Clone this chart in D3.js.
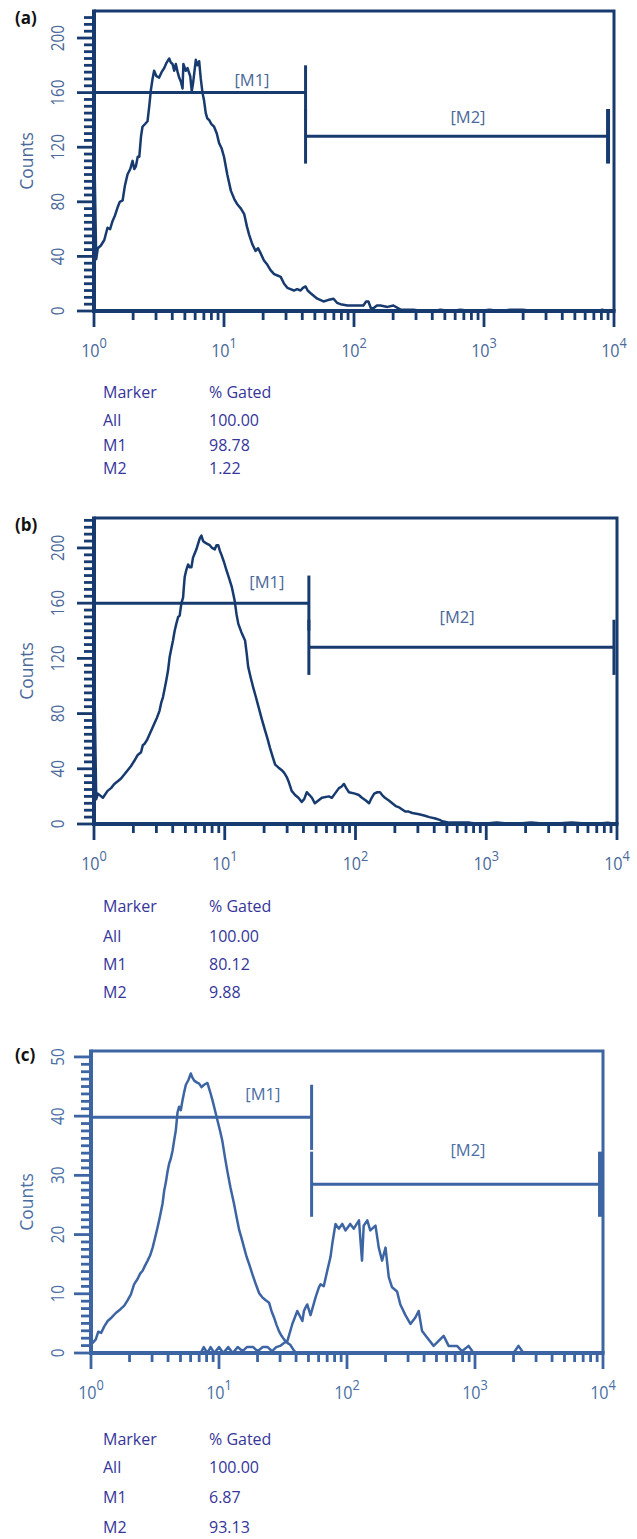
<!DOCTYPE html>
<html><head><meta charset="utf-8">
<script src="https://cdn.jsdelivr.net/npm/d3@7"></script>
<style>body{margin:0;background:#fff}svg{display:block}text{font-family:"Open Sans","Noto Sans",sans-serif}</style>
</head><body><svg id="chart" width="637" height="1539"></svg>
<script>
// ---------- data ----------
const panelLabels = ["(a)", "(b)", "(c)"];
const xTickValues = [1, 10, 100, 1000, 10000];
const xTickExponents = ["0", "1", "2", "3", "4"];
const yTicksA = [0, 40, 80, 120, 160, 200];
const yTicksB = [0, 40, 80, 120, 160, 200];
const yTicksC = [0, 10, 20, 30, 40, 50];
const yAxisTitle = "Counts";

const markerNames = ["[M1]", "[M2]"];
const markerStartA = [1, 42.4], markerEndA = [42.4, 9000], markerLevelA = [160, 128];
const markerStartB = [1, 44], markerEndB = [44, 9480], markerLevelB = [160, 128];
const markerStartC = [1, 52.9], markerEndC = [52.9, 9480], markerLevelC = [39.8, 28.5];
const markerLabelXA = [16.4, 753], markerLabelYA = [169, 142];
const markerLabelXB = [21, 598], markerLabelYB = [175, 150];
const markerLabelXC = [22, 881], markerLabelYC = [43.7, 34.2];

const tableHeader = ["Marker", "% Gated"];
const tableRows = ["All", "M1", "M2"];
const gatedA = ["100.00", "98.78", "1.22"];
const gatedB = ["100.00", "80.12", "9.88"];
const gatedC = ["100.00", "6.87", "93.13"];

// histogram traces: [intensity, counts]
const curveA = [[1,130],[1.04,38],[1.07,46],[1.13,48],[1.20,52],[1.27,61],[1.33,60],[1.39,66],[1.45,70],[1.52,76],[1.58,80],[1.66,81],[1.73,92],[1.81,100],[1.90,104],[1.98,110],[2.04,104],[2.10,106],[2.17,113],[2.23,113],[2.30,128],[2.36,135],[2.47,137],[2.58,139],[2.66,150],[2.74,162],[2.82,170],[2.90,176],[3.02,172],[3.17,171],[3.31,175],[3.47,178],[3.62,182],[3.79,185],[3.90,182],[4.02,181],[4.14,176],[4.26,181],[4.40,175],[4.52,171],[4.66,168],[4.80,163],[4.87,181],[5.08,176],[5.24,178],[5.50,172],[5.65,161],[5.80,168],[6.07,184],[6.25,180],[6.44,183],[6.63,170],[6.83,160],[7.03,154],[7.24,145],[7.45,141],[7.68,140],[8.00,137],[8.39,135],[8.80,130],[9.17,123],[9.60,119],[10.0,113],[10.6,100],[11.3,88],[12.0,82],[12.7,78],[13.5,75],[14.3,71],[15.0,62],[15.6,56],[16.5,49],[17.5,44],[18.3,46],[19.2,42],[20.3,37],[21.5,34],[22.8,30],[24.3,27],[25.8,26],[27.3,25],[29.0,20],[30.7,17],[32.5,16],[34.5,15],[36.5,16],[38.8,15],[40.5,17],[42.4,18],[44,15],[46.4,13],[52.2,9],[58.3,7],[63,8],[69.6,9],[74,6],[78.8,5],[89.1,4],[100,4],[118,4],[124,7],[129,7],[135,2],[141,2],[150,4],[160,4],[181,3],[201,4],[228,1],[286,1],[340,0],[408,0],[461,1],[560,0],[657,1],[800,0],[936,0],[1100,1],[1333,0],[1589,1],[1966,1],[2474,0],[3846,0],[7816,0],[8090,1],[8835,0],[10000,0]];

const curveB = [[1,120],[1.04,18],[1.07,22],[1.17,19],[1.27,24],[1.35,26],[1.43,29],[1.52,31],[1.61,33],[1.71,36],[1.81,39],[1.92,42],[2.04,46],[2.16,50],[2.29,52],[2.36,57],[2.43,58],[2.55,61],[2.66,65],[2.78,69],[2.90,73],[3.03,77],[3.17,82],[3.27,88],[3.37,92],[3.47,98],[3.57,104],[3.68,111],[3.79,121],[3.90,127],[4.02,133],[4.14,140],[4.26,145],[4.40,150],[4.52,151],[4.66,160],[4.80,164],[4.87,172],[4.94,179],[5.08,184],[5.24,188],[5.40,186],[5.56,186],[5.72,193],[5.89,196],[6.07,199],[6.25,203],[6.44,207],[6.63,209],[6.83,205],[7.03,204],[7.35,203],[7.68,202],[8.00,200],[8.39,199],[8.65,202],[8.91,202],[9.17,198],[9.44,195],[9.85,190],[10.3,184],[10.8,178],[11.3,172],[11.6,167],[11.9,162],[12.3,152],[12.7,145],[13.4,139],[14.3,133],[14.7,124],[15.1,114],[15.8,106],[16.5,99],[17.3,92],[18.1,85],[19.2,76],[20.3,68],[21.2,62],[22.2,55],[23.2,49],[24.3,43],[25.7,41],[27.3,39],[28.5,37],[29.8,34],[31.0,30],[32.5,24],[34.5,21],[36.6,19],[38.8,16],[40.5,18],[42.4,23],[44.5,21],[46.4,19],[48.9,15],[52,17],[55.3,19],[62.6,20],[66,19],[69.6,22],[74.7,26],[78,27],[81.6,29],[85,26],[89.1,23],[99.1,22],[106,21],[112,19],[120,17],[127,15],[133,19],[139,22],[147,23],[154,23],[160,21],[168,19],[180,17],[191,15],[203,13],[216,12],[240,9],[255,9],[272,8],[307,7],[340,6],[367,5],[408,4],[440,3],[461,2],[522,1],[744,1],[900,0],[1200,1],[1600,0],[2200,1],[3000,0],[4500,1],[6500,0],[8500,1],[10000,0]];

const curveC1 = [[1,2],[1.03,1.7],[1.09,2.3],[1.14,3.6],[1.20,3.4],[1.27,4.5],[1.35,5.4],[1.45,6.0],[1.57,6.8],[1.70,7.4],[1.82,8.0],[1.93,8.9],[2.05,9.9],[2.17,11.6],[2.31,12.5],[2.42,13.4],[2.53,13.9],[2.65,14.8],[2.77,15.6],[2.90,16.5],[3.03,17.8],[3.17,19.5],[3.31,21.2],[3.46,23.1],[3.62,25.2],[3.73,27.4],[3.85,28.9],[3.96,30.6],[4.08,32.0],[4.20,32.8],[4.34,34.2],[4.47,36.0],[4.60,37.6],[4.74,40.6],[4.88,41.6],[5.03,41.0],[5.19,42.7],[5.35,44.1],[5.51,45.3],[5.77,46.1],[6.02,47.2],[6.20,46.5],[6.40,46.0],[6.70,45.7],[7.00,45.5],[7.30,44.9],[7.65,45.3],[8.12,45.6],[8.50,44.2],[8.89,42.7],[9.30,41.0],[9.72,39.3],[10.2,37.5],[10.6,35.9],[11.1,33.2],[11.6,30.8],[12.3,27.9],[13.1,25.2],[13.7,23.0],[14.4,20.7],[15.0,19.4],[15.7,17.8],[16.4,16.3],[17.2,15.0],[18.3,13.2],[19.4,11.6],[20.6,10.1],[21.8,9.4],[23.2,8.9],[24.6,8.5],[25.7,7.1],[26.9,6.0],[28.1,4.8],[29.4,3.7],[30.8,2.9],[32.2,2.3],[34.2,1.7],[36,1.4],[38,0.6],[40,0]];

const curveC2 = [[1,0],[7.2,0],[7.6,1],[8.1,0],[8.6,1],[9.2,0],[10.0,1],[10.8,0],[11.8,1],[12.8,0],[14.0,1],[15.3,0.3],[16.5,1],[18.5,1],[20,0.3],[22,1],[24,1],[26,0.3],[28,1],[30,1.2],[32.2,1.7],[34.2,2.0],[37.4,4.9],[40.9,7.1],[44.8,5.4],[46.1,7.1],[47.5,7.7],[48.9,8.2],[51.9,6.4],[56.8,9.4],[60.3,11.1],[62.1,11.6],[65.9,11.3],[70.1,13.9],[74.3,16.2],[76.7,18.4],[81.3,21.8],[86.3,21.0],[91.8,21.8],[97.3,20.7],[106,21.8],[113,21.0],[124,22.4],[131,15.6],[135,21.5],[144,22.4],[152,20.7],[167,21.5],[177,17.8],[188,15.6],[200,17.8],[212,12.8],[225,11.1],[246,10.4],[261,8.2],[286,6.4],[313,4.9],[342,6.0],[363,7.1],[386,3.7],[422,2.6],[475,1.2],[569,2.9],[622,1.2],[723,1.2],[791,0.3],[891,1.2],[975,0],[2000,0],[2186,1.2],[2393,0],[10000,0]];

// ---------- layout / styles ----------
const panels = [
  {label: panelLabels[0], yTicks: yTicksA, curves: [curveA], ms: markerStartA, me: markerEndA, ml: markerLevelA, lx: markerLabelXA, ly: markerLabelYA, gated: gatedA,
   left: 94, right: 614, top: 11, y0: 311, yMax: 219.8, minor: 5, barH: 20,
   col: "#173a6f", txt: "#4a6899", labY: 24, tab: [87, 115, 140, 163], endW: 4},
  {label: panelLabels[1], yTicks: yTicksB, curves: [curveB], ms: markerStartB, me: markerEndB, ml: markerLevelB, lx: markerLabelXB, ly: markerLabelYB, gated: gatedB,
   left: 94, right: 617, top: 518, y0: 824, yMax: 221.7, minor: 5, barH: 20,
   col: "#173a6f", txt: "#4a6899", labY: 531, tab: [88, 118, 146, 174], endW: 3},
  {label: panelLabels[2], yTicks: yTicksC, curves: [curveC1, curveC2], ms: markerStartC, me: markerEndC, ml: markerLevelC, lx: markerLabelXC, ly: markerLabelYC, gated: gatedC,
   left: 91, right: 603, top: 1051, y0: 1353, yMax: 51.0, minor: 1.25, barH: 5.5,
   col: "#3d65a3", txt: "#4a6ea5", labY: 1061, tab: [92, 120, 150, 180], endW: 4}
];
const tableColor = "#35359a";

const svg = d3.select("#chart");

panels.forEach(p => {
  const x = d3.scaleLog().domain([1, 1e4]).range([p.left, p.right]);
  const y = d3.scaleLinear().domain([0, p.yMax]).range([p.y0, p.top]);
  const g = svg.append("g");

  // panel label
  g.append("text").attr("x", 15).attr("y", p.labY).attr("font-size", 17).attr("font-weight", 700)
    .attr("fill", "#111").text(p.label);

  // y ticks
  const yt = d3.range(0, p.yMax + 1e-6, p.minor);
  yt.forEach((v, i) => {
    const major = i % 8 === 0;
    g.append("line").attr("x1", p.left).attr("x2", p.left - (major ? 17 : 10))
      .attr("y1", y(v)).attr("y2", y(v)).attr("stroke", p.col).attr("stroke-width", 2.8);
  });
  p.yTicks.forEach(v => {
    g.append("g").attr("transform", `translate(64,${y(v)}) rotate(-90) scale(0.85,1)`)
      .append("text").attr("text-anchor", "middle").attr("font-size", 18)
      .attr("fill", p.txt).text(v);
  });
  g.append("text").attr("transform", `translate(33,${(p.top + p.y0) / 2}) rotate(-90)`)
    .attr("text-anchor", "middle").attr("font-size", 17.5)
    .attr("fill", p.txt).text(yAxisTitle);

  // x ticks
  const xt = [];
  for (let d = 0; d < 4; d++) for (let k = 1; k <= 9; k++) xt.push({v: k * Math.pow(10, d), major: k === 1});
  xt.push({v: 1e4, major: true});
  xt.forEach(t => {
    g.append("line").attr("x1", x(t.v)).attr("x2", x(t.v)).attr("y1", p.y0 - 1)
      .attr("y2", p.y0 + (t.major ? 16 : 9)).attr("stroke", p.col).attr("stroke-width", 2.8);
  });
  xTickValues.forEach((v, i) => {
    const t = g.append("g").attr("transform", `translate(${x(v)},${p.y0 + 46}) scale(0.85,1)`)
      .append("text").attr("text-anchor", "middle").attr("font-size", 19).attr("fill", p.txt);
    t.append("tspan").text("10");
    t.append("tspan").attr("dy", -9).attr("font-size", 15).text(xTickExponents[i]);
  });

  // frame
  g.append("path").attr("d", `M${p.left},${p.top}H${p.right}V${p.y0}`)
    .attr("fill", "none").attr("stroke", p.col).attr("stroke-width", 3);
  g.append("line").attr("x1", p.left).attr("x2", p.left).attr("y1", p.top - 1.5).attr("y2", p.y0 + 2)
    .attr("stroke", p.col).attr("stroke-width", 4);
  g.append("line").attr("x1", p.left - 2).attr("x2", p.right + 1.5).attr("y1", p.y0).attr("y2", p.y0)
    .attr("stroke", p.col).attr("stroke-width", 4);

  // histograms
  const line = d3.line().x(d => x(d[0])).y(d => y(d[1]));
  p.curves.forEach(c => {
    g.append("path").attr("d", line(c)).attr("fill", "none").attr("stroke", p.col)
      .attr("stroke-width", 2.5).attr("stroke-linejoin", "round");
  });

  // markers
  markerNames.forEach((m, i) => {
    g.append("line").attr("x1", x(p.ms[i])).attr("x2", x(p.me[i])).attr("y1", y(p.ml[i])).attr("y2", y(p.ml[i]))
      .attr("stroke", p.col).attr("stroke-width", 3);
    [p.ms[i], p.me[i]].forEach((xv, j) => {
      g.append("line").attr("x1", x(xv)).attr("x2", x(xv))
        .attr("y1", y(p.ml[i] + p.barH)).attr("y2", y(p.ml[i] - p.barH))
        .attr("stroke", p.col).attr("stroke-width", (i === 1 && j === 1) ? p.endW : 3);
    });
    g.append("text").attr("x", x(p.lx[i])).attr("y", y(p.ly[i])).attr("dy", "0.35em")
      .attr("text-anchor", "middle").attr("font-size", 16.5)
      .attr("fill", p.txt).text(m);
  });

  // table
  const colX = [103, 209];
  tableHeader.forEach((h, j) => {
    g.append("text").attr("x", colX[j]).attr("y", p.y0 + p.tab[0]).attr("font-size", 16)
      .attr("fill", tableColor).text(h);
  });
  tableRows.forEach((r, i) => {
    g.append("text").attr("x", colX[0]).attr("y", p.y0 + p.tab[i + 1]).attr("font-size", 16)
      .attr("fill", tableColor).text(r);
    g.append("text").attr("x", colX[1]).attr("y", p.y0 + p.tab[i + 1]).attr("font-size", 16)
      .attr("fill", tableColor).text(p.gated[i]);
  });
});
</script></body></html>
